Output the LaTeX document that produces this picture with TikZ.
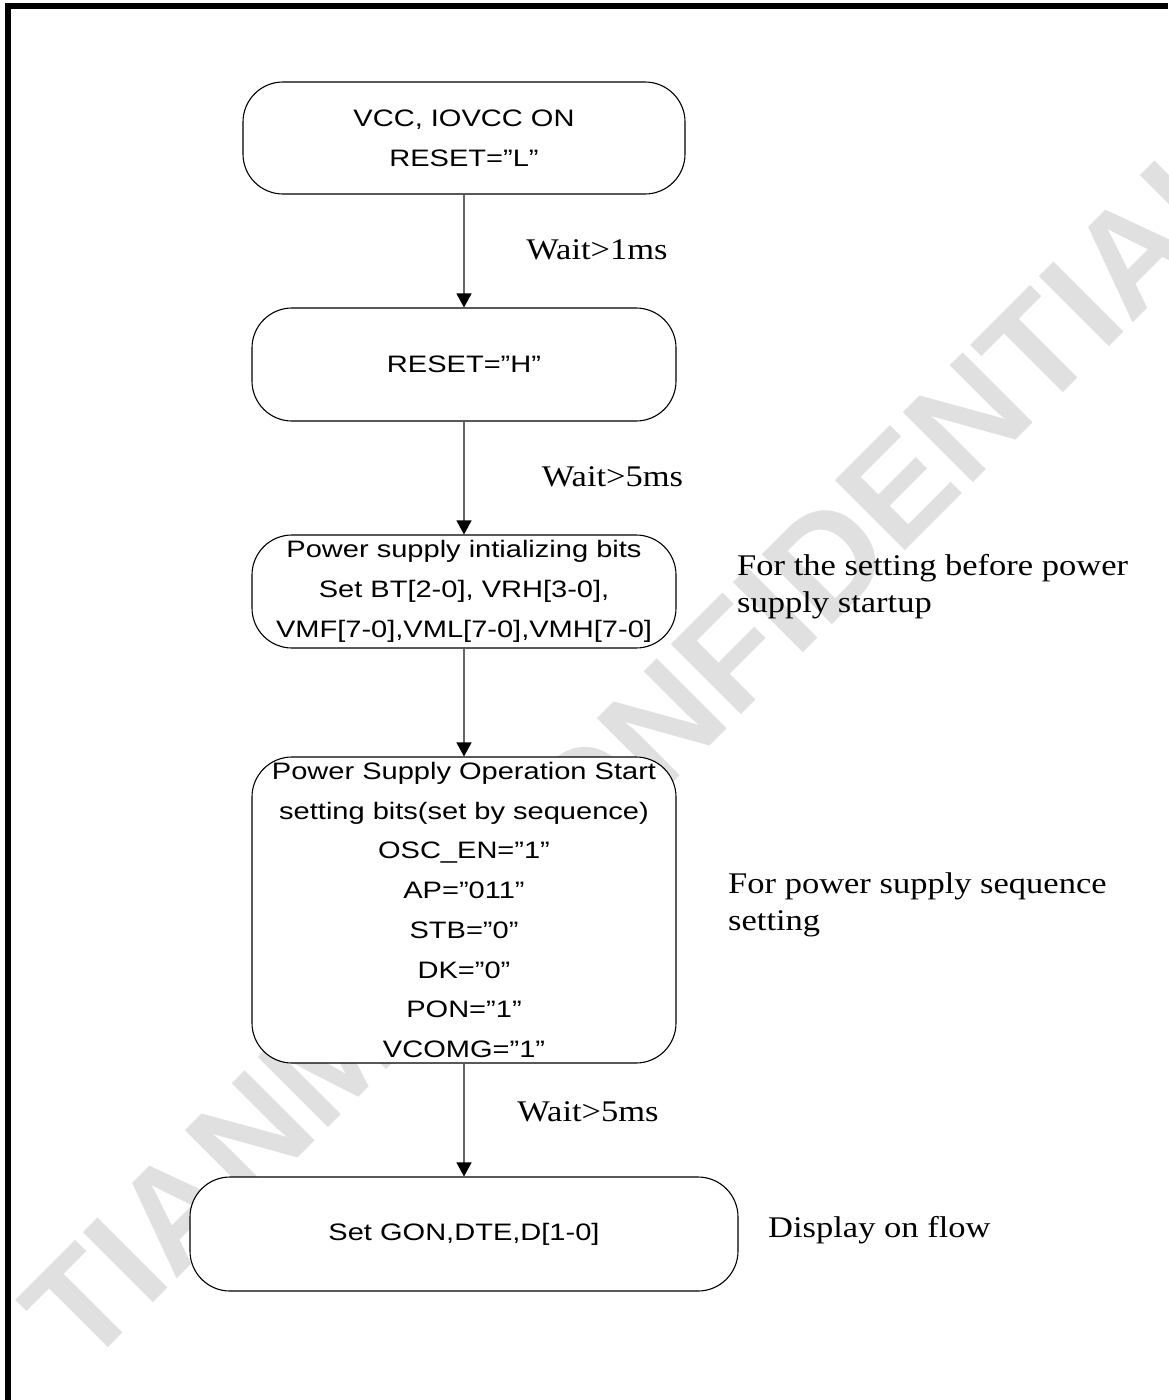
\documentclass[tikz,border=0pt]{standalone}
\usepackage{fontspec}
\usetikzlibrary{arrows.meta}
\newfontfamily\arialf{Liberation Sans}[FakeStretch=1.22]
\newfontfamily\timesf{Liberation Serif}[FakeStretch=1.15]
\newfontfamily\wmfont{Liberation Sans Bold}
\tikzset{
 flowbox/.style={draw=black, line width=1.1pt, fill=white, rounded corners=40pt, inner sep=0pt, align=center, font=\arialf\fontsize{23.8}{39.7}\selectfont, text=black},
 conn/.style={draw=black!60, line width=1.3pt, -{Triangle[width=15pt,length=14pt,color=black]}},
 waitlabel/.style={font=\timesf\fontsize{30}{37.5}\selectfont, inner sep=0pt},
 note/.style={font=\timesf\fontsize{30}{37.5}\selectfont, inner sep=0pt, align=left, anchor=west},
 frameline/.style={line width=6pt, draw=black, line join=miter},
 watermark/.style={font=\wmfont\fontsize{144}{144}\selectfont, text=black!12, inner sep=0pt, rotate=45, anchor=base west}
}
\begin{document}
\begin{tikzpicture}[x=1pt,y=-1pt]
\useasboundingbox (0,0) rectangle (1168,1400);
\node[watermark] (wm) at (84,1372) {TIANMA CONFIDENTIAL};
\draw[frameline] (7.5,1400) -- (7.5,6) -- (1168,6);

\node[flowbox, minimum width=442pt, minimum height=112pt] (b1) at (464,138) {VCC, IOVCC ON\\RESET=”L”};
\node[flowbox, minimum width=424pt, minimum height=113pt] (b2) at (464,364.5) {RESET=”H”};
\node[flowbox, minimum width=424pt, minimum height=113pt] (b3) at (464,591.5) {Power supply intializing bits\\Set BT[2-0], VRH[3-0],\\VMF[7-0],VML[7-0],VMH[7-0]};
\node[flowbox, minimum width=424pt, minimum height=306pt] (b4) at (464,910) {Power Supply Operation Start\\setting bits(set by sequence)\\OSC\_EN=”1”\\AP=”011”\\STB=”0”\\DK=”0”\\PON=”1”\\VCOMG=”1”};
\node[flowbox, minimum width=548pt, minimum height=114pt] (b5) at (464,1234) {Set GON,DTE,D[1-0]};

\draw[conn] (b1.south) -- (b2.north);
\draw[conn] (b2.south) -- (b3.north);
\draw[conn] (b3.south) -- (b4.north);
\draw[conn] (b4.south) -- (b5.north);

\node[waitlabel] (w1) at (597,250) {Wait>1ms};
\node[waitlabel] (w2) at (612.5,477) {Wait>5ms};
\node[waitlabel] (w3) at (588,1112) {Wait>5ms};
\node[note] (n1) at (737,586.75) {For the setting before power\\supply startup};
\node[note] (n2) at (728,904.75) {For power supply sequence\\setting};
\node[note] (n3) at (768,1230) {Display on flow};
\end{tikzpicture}
\end{document}
